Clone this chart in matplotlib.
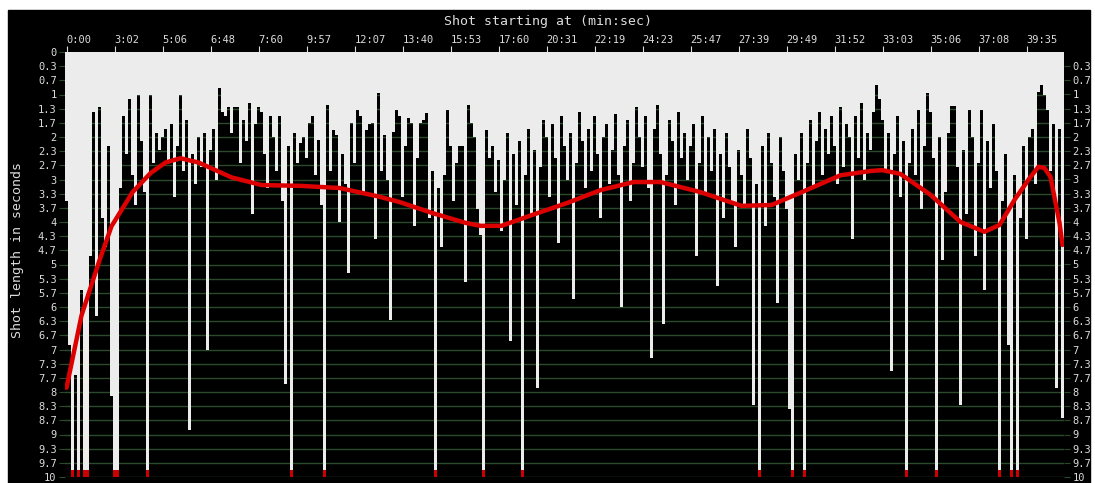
import numpy as np
import matplotlib
matplotlib.use("Agg")
import matplotlib.pyplot as plt
from matplotlib.patches import Rectangle

# ---- data ----
shot_lengths = [
    3.5, 6.9, 12, 7.6, 11, 5.6, 12, 14, 4.8, 1.4, 6.2, 1.3, 3.9, 4.6, 2.2, 8.1,
    12, 11, 3.2, 1.5, 2.4, 1.1, 2.9, 3.6, 1.0, 2.1, 3.3, 12, 1.0, 2.6, 1.9, 2.3,
    2.0, 1.8, 2.6, 1.7, 3.4, 2.2, 1.0, 2.8, 1.6, 8.9, 2.4, 3.1, 2.0, 2.7, 1.9, 7.0,
    2.3, 1.8, 3.0, 0.85, 1.4, 1.5, 1.3, 1.9, 1.3, 1.3, 2.6, 1.6, 2.1, 1.2, 3.8, 1.7,
    1.3, 1.4, 2.4, 3.2, 1.5, 2.0, 2.8, 1.5, 3.5, 7.8, 2.2, 12, 1.9, 2.6, 2.15, 2.0,
    2.5, 1.67, 1.5, 2.9, 2.07, 3.6, 12, 1.25, 2.8, 1.83, 1.95, 4.0, 2.4, 3.1, 5.2, 1.67,
    2.6, 1.36, 1.5, 3.3, 1.83, 1.7, 1.67, 4.4, 0.97, 2.8, 1.95, 3.0, 6.3, 1.88, 1.36, 1.5,
    3.4, 2.2, 1.55, 1.67, 4.1, 2.5, 1.67, 1.6, 1.44, 3.9, 2.8, 12, 3.2, 4.6, 2.9, 1.36,
    2.2, 3.5, 2.6, 2.2, 2.2, 5.4, 1.25, 1.67, 2.0, 3.7, 4.3, 12, 1.83, 2.5, 2.2, 3.3,
    2.54, 4.2, 3.0, 1.9, 6.8, 2.4, 3.6, 2.1, 12, 2.9, 1.8, 3.8, 2.3, 7.9, 2.7, 1.6,
    2.0, 3.4, 1.7, 2.5, 4.5, 1.5, 2.2, 3.0, 1.9, 5.8, 2.6, 1.4, 2.1, 3.2, 1.8, 2.8,
    1.5, 2.4, 3.9, 2.0, 1.7, 3.1, 2.3, 1.45, 2.9, 6.0, 2.2, 1.6, 3.5, 2.6, 1.3, 2.0,
    2.7, 1.5, 3.2, 7.2, 1.8, 1.25, 2.4, 6.4, 2.9, 1.6, 2.1, 3.6, 1.4, 2.5, 1.9, 3.0,
    2.2, 1.7, 4.8, 2.6, 1.5, 3.3, 2.0, 2.8, 1.8, 5.5, 2.4, 3.9, 1.9, 2.7, 3.5, 4.6,
    2.3, 2.9, 3.6, 1.8, 2.5, 8.3, 3.1, 12, 2.2, 4.1, 1.9, 2.6, 3.4, 5.9, 2.0, 2.8,
    3.7, 8.4, 12, 2.4, 3.0, 1.9, 12, 2.6, 1.6, 3.2, 2.1, 1.4, 2.9, 1.8, 2.4, 1.5,
    2.2, 3.1, 1.3, 2.7, 1.7, 2.0, 4.4, 1.5, 2.5, 1.2, 3.0, 1.9, 2.3, 1.4, 0.78, 1.1,
    1.6, 2.8, 1.9, 7.5, 2.4, 1.5, 3.4, 2.1, 12, 2.6, 1.8, 2.9, 1.36, 3.7, 2.2, 0.97,
    1.4, 2.5, 12, 2.0, 4.9, 3.3, 1.9, 1.27, 1.27, 2.7, 8.3, 2.3, 3.8, 1.36, 2.0, 4.8,
    2.6, 1.36, 5.6, 2.1, 3.2, 1.7, 2.8, 12, 3.5, 2.4, 6.9, 12, 2.9, 12, 3.9, 2.2,
    4.4, 2.0, 1.8, 3.1, 0.95, 0.78, 1.0, 1.36, 2.8, 1.7, 7.9, 1.8, 8.6,
]

trend_shot = [0, 5, 11, 15, 22, 28, 33, 38, 44, 55, 65, 78, 91, 104, 111, 122,
              133, 138, 145, 155, 167, 178, 189, 198, 211, 225, 235, 245, 258,
              268, 272, 278, 288, 298, 306, 311, 316, 321, 324, 326, 328, 329.5,
              331, 332]
trend_value = [7.9, 6.2, 4.9, 4.1, 3.3, 2.85, 2.6, 2.5, 2.6, 2.95, 3.13, 3.15,
               3.2, 3.4, 3.53, 3.79, 4.02, 4.09, 4.09, 3.84, 3.55, 3.25, 3.06,
               3.06, 3.29, 3.62, 3.6, 3.3, 2.9, 2.8, 2.78, 2.87, 3.36, 4.0, 4.23,
               4.07, 3.48, 2.97, 2.7, 2.73, 2.94, 3.48, 4.02, 4.54]

time_tick_shots = list(range(0, 321, 16))
time_tick_labels = ["0:00", "3:02", "5:06", "6:48", "7:60", "9:57", "12:07",
                    "13:40", "15:53", "17:60", "20:31", "22:19", "24:23",
                    "25:47", "27:39", "29:49", "31:52", "33:03", "35:06",
                    "37:08", "39:35"]

y_max = 10

# ---- figure ----
W, H = 1095, 483
fig = plt.figure(figsize=(W / 100, H / 100), dpi=100, facecolor="white")
fig.patches.append(Rectangle((8 / W, 0), (1090 - 8) / W, (H - 10) / H,
                             transform=fig.transFigure, color="black", zorder=-10))

ax = fig.add_axes([65 / W, 6 / H, 999 / W, 425 / H])
ax.set_facecolor("black")
n = len(shot_lengths)
idx = np.arange(n)
vals = np.array(shot_lengths, dtype=float)
bw = 0.72
ax.set_xlim(-0.5, n - 0.5)
ax.set_ylim(y_max, 0)

ax.bar(idx, np.minimum(vals, y_max), width=bw, bottom=0, color="#ececec",
       linewidth=0, zorder=2)
long_mask = vals > y_max
ax.bar(idx[long_mask], 0.17, bottom=y_max - 0.17, width=bw, color="#cc0000",
       linewidth=0, zorder=3)

ax.plot(trend_shot, trend_value, color="#dd0000", lw=3.2, zorder=4,
        solid_capstyle="round", solid_joinstyle="round")

mono = "DejaVu Sans Mono"
txt = "#dcdcdc"
grid_c = "#2b4a2b"

yt = np.arange(31) / 3.0
def fmt(v):
    s = f"{v:.1f}"
    return s[:-2] if s.endswith(".0") else s

ax.set_yticks(yt)
ax.set_yticklabels([fmt(v) for v in yt], fontfamily=mono, fontsize=7.5, color=txt)
ax.yaxis.grid(True, color=grid_c, lw=1.0)
ax.set_axisbelow(True)
ax.tick_params(axis="y", colors=grid_c, labelcolor=txt, length=4, pad=2)

ax2 = ax.twinx()
ax2.set_ylim(y_max, 0)
ax2.set_yticks(yt[1:])
ax2.set_yticklabels([fmt(v) for v in yt[1:]], fontfamily=mono, fontsize=7.5, color=txt)
ax2.tick_params(axis="y", colors=grid_c, labelcolor=txt, length=4, pad=2)

ax.xaxis.tick_top()
ax.set_xticks(time_tick_shots)
ax.set_xticklabels(time_tick_labels, fontfamily=mono, fontsize=7.5, color=txt, ha="left")
ax.tick_params(axis="x", colors=txt, labelcolor=txt, length=4, pad=1)

for a in (ax, ax2):
    for s in a.spines.values():
        s.set_visible(False)

fig.text(548 / W, 1 - 21 / H, "Shot starting at (min:sec)", ha="center", va="center",
         fontfamily=mono, fontsize=9.5, color=txt)
fig.text(18 / W, 1 - 250 / H, "Shot length in seconds", ha="center", va="center",
         rotation=90, fontfamily=mono, fontsize=9.5, color=txt)

fig.savefig("out.png", dpi=100, facecolor="white")
